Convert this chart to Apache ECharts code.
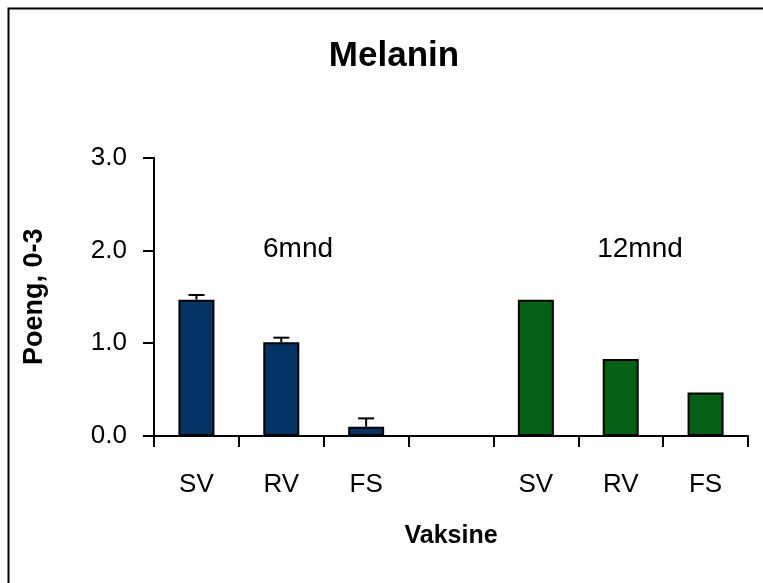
<!DOCTYPE html>
<html><head><meta charset="utf-8">
<script src="https://cdn.jsdelivr.net/npm/echarts@6/dist/echarts.min.js"></script>
<style>html,body{margin:0;padding:0;background:#fff}#c{width:763px;height:583px}</style>
</head><body><div id="c"></div>
<script>
const categories = ['SV','RV','FS','','SV','RV','FS'];
const values6 = [1.47, 1.01, 0.10, null, null, null, null];
const errTop6 = [1.52, 1.06, 0.19, null, null, null, null];
const values12 = [null, null, null, null, 1.47, 0.83, 0.47];
const yTicks = [0, 1, 2, 3];
const groupLabels = ['6mnd', '12mnd'];

const chart = echarts.init(document.getElementById('c'));
const errData = [];
errTop6.forEach((e,i)=>{ if(e!=null) errData.push([i, values6[i], e]); });
const font = 'Liberation Sans, Arial, sans-serif';
chart.setOption({
  animation:false,
  backgroundColor:'#fff',
  title:{text:'Melanin', left:389, textAlign:'center', top:34,
    textStyle:{fontFamily:font, fontSize:35, fontWeight:'bold', color:'#000'}},
  grid:{left:154, right:15, top:157.7, bottom:147},
  xAxis:{type:'category', data:categories, boundaryGap:true,
    name:'Vaksine', nameLocation:'middle', nameGap:88,
    nameTextStyle:{fontFamily:font, fontSize:25, fontWeight:'bold', color:'#000'},
    axisLine:{lineStyle:{color:'#000', width:2}},
    axisTick:{show:true, interval:0, length:11, lineStyle:{color:'#000', width:2}},
    axisLabel:{interval:0, margin:36, fontFamily:font, fontSize:26, color:'#000'}},
  yAxis:{type:'value', min:0, max:3, interval:1,
    name:'Poeng, 0-3', nameLocation:'middle', nameGap:106, nameRotate:90,
    nameTextStyle:{fontFamily:font, fontSize:27, fontWeight:'bold', color:'#000'},
    axisLine:{show:true, lineStyle:{color:'#000', width:2}},
    axisTick:{show:true, length:11, lineStyle:{color:'#000', width:2}},
    splitLine:{show:false},
    axisLabel:{margin:27, fontFamily:font, fontSize:26, color:'#000',
      formatter:v=>yTicks.includes(v)?v.toFixed(1):''}},
  series:[
    {type:'bar', data:values6, barWidth:36, barGap:'-100%',
      itemStyle:{color:'#023466', borderColor:'#000', borderWidth:2}},
    {type:'bar', data:values12, barWidth:36, barGap:'-100%',
      itemStyle:{color:'#046113', borderColor:'#000', borderWidth:2}},
    {type:'custom', data:errData, z:1,
      renderItem:(params, api)=>{
        const x = api.value(0);
        const p0 = api.coord([x, api.value(1)]);
        const p1 = api.coord([x, api.value(2)]);
        const hw = 8;
        return {type:'group', children:[
          {type:'line', shape:{x1:p0[0], y1:p0[1], x2:p1[0], y2:p1[1]}, style:{stroke:'#000', lineWidth:2}},
          {type:'line', shape:{x1:p1[0]-hw, y1:p1[1], x2:p1[0]+hw, y2:p1[1]}, style:{stroke:'#000', lineWidth:2}}
        ]};
      }}
  ],
  graphic:[
    {type:'rect', left:6, top:6, shape:{width:800, height:620}, style:{fill:null, stroke:'#000', lineWidth:2}, silent:true},
    {type:'text', x:298, y:235, style:{text:groupLabels[0], textAlign:'center', textVerticalAlign:'top', fontFamily:font, fontSize:28, fill:'#000'}},
    {type:'text', x:640, y:235, style:{text:groupLabels[1], textAlign:'center', textVerticalAlign:'top', fontFamily:font, fontSize:28, fill:'#000'}}
  ]
});
</script></body></html>
